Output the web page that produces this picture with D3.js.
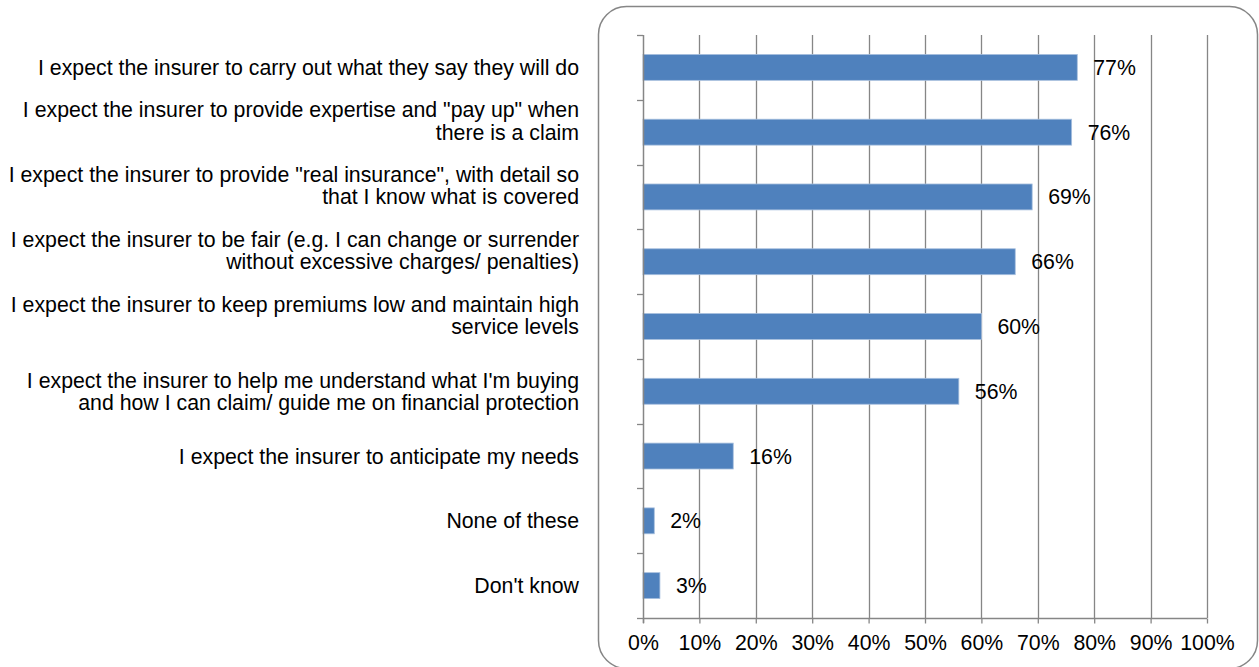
<!DOCTYPE html>
<html>
<head>
<meta charset="utf-8">
<script src="https://cdn.jsdelivr.net/npm/d3@7"></script>
<style>
  html, body { margin: 0; padding: 0; background: #fff; }
  svg { display: block; }
  text { font-family: "Liberation Sans", Arial, sans-serif; fill: #000; }
</style>
</head>
<body>
<svg id="chart" width="1259" height="667"></svg>
<script>
// Survey statements (wrapped into lines as shown on the axis)
const categories = [
  ["I expect the insurer to carry out what they say they will do"],
  ["I expect the insurer to provide expertise and \"pay up\" when", "there is a claim", ""],
  ["I expect the insurer to provide \"real insurance\", with detail so", "that I know what is covered", ""],
  ["I expect the insurer to be fair (e.g. I can change or surrender", "without excessive charges/ penalties)", ""],
  ["I expect the insurer to keep premiums low and maintain high", "service levels", ""],
  ["I expect the insurer to help me understand what I'm buying", "and how I can claim/ guide me on financial protection"],
  ["I expect the insurer to anticipate my needs"],
  ["None of these"],
  ["Don't know"]
];
// Share of respondents, percent
const values = [77, 76, 69, 66, 60, 56, 16, 2, 3];
const tickValues = [0, 10, 20, 30, 40, 50, 60, 70, 80, 90, 100];

const svg = d3.select("#chart");
const fontSize = 21.3;
const plot = { left: 643, right: 1207, top: 35, bottom: 618 };
const axisColor = "#868686";

// Rounded frame around the plot area
svg.append("rect")
  .attr("x", 598.5).attr("y", 6.5)
  .attr("width", 659).attr("height", 662)
  .attr("rx", 28).attr("ry", 28)
  .attr("fill", "none")
  .attr("stroke", axisColor)
  .attr("stroke-width", 1.5);

const x = d3.scaleLinear().domain([0, 100]).range([plot.left, plot.right]);
const y = d3.scaleBand()
  .domain(d3.range(categories.length))
  .range([plot.top, plot.bottom])
  .paddingInner(0.6)
  .paddingOuter(0.3);

// Vertical gridlines
svg.append("g")
  .selectAll("line")
  .data(tickValues.filter(d => d > 0))
  .join("line")
  .attr("x1", d => Math.round(x(d)) + 0.5)
  .attr("x2", d => Math.round(x(d)) + 0.5)
  .attr("y1", plot.top)
  .attr("y2", plot.bottom)
  .attr("stroke", axisColor)
  .attr("stroke-width", 1.3);

// Bars
svg.append("g")
  .selectAll("rect")
  .data(values)
  .join("rect")
  .attr("x", x(0))
  .attr("y", (d, i) => y(i))
  .attr("width", d => x(d) - x(0))
  .attr("height", y.bandwidth())
  .attr("fill", "#4F81BD")
  .attr("stroke", "#a7bfde")
  .attr("stroke-width", 0.8);

// Value labels
svg.append("g")
  .selectAll("text")
  .data(values)
  .join("text")
  .attr("x", d => x(d) + 16)
  .attr("y", (d, i) => y(i) + y.bandwidth() / 2)
  .attr("dy", "0.35em")
  .attr("font-size", fontSize)
  .text(d => d + "%");

// X axis
const xAxis = d3.axisBottom(x)
  .tickValues(tickValues)
  .tickFormat(d => d + "%")
  .tickSize(5)
  .tickPadding(11.5);
const gx = svg.append("g")
  .attr("transform", `translate(0,${plot.bottom + 0.5})`)
  .call(xAxis);
gx.select(".domain").attr("stroke", axisColor).attr("stroke-width", 1.5)
  .attr("d", `M${x(0)},0H${x(100)}`);
gx.selectAll(".tick line").attr("stroke", axisColor).attr("stroke-width", 1.3);
gx.selectAll(".tick text")
  .attr("font-size", fontSize)
  .attr("font-family", "'Liberation Sans', Arial, sans-serif")
  .attr("fill", "#000");

// Y axis line with ticks at category boundaries
const boundaries = d3.range(categories.length + 1).map(i => plot.top + i * y.step());
const gy = svg.append("g");
gy.append("line")
  .attr("x1", x(0) + 0.5).attr("x2", x(0) + 0.5)
  .attr("y1", plot.top).attr("y2", plot.bottom + 5)
  .attr("stroke", axisColor).attr("stroke-width", 1.5);
gy.selectAll("line.tick")
  .data(boundaries)
  .join("line")
  .attr("class", "tick")
  .attr("x1", x(0) - 6).attr("x2", x(0))
  .attr("y1", d => Math.round(d) + 0.5)
  .attr("y2", d => Math.round(d) + 0.5)
  .attr("stroke", axisColor).attr("stroke-width", 1.3);

// Category labels, right aligned and centred on each band
const lineHeight = 22.4;
const labels = svg.append("g")
  .selectAll("text")
  .data(categories)
  .join("text")
  .attr("text-anchor", "end")
  .attr("font-size", fontSize)
  .attr("y", (d, i) => y(i) + y.bandwidth() / 2);

labels.selectAll("tspan")
  .data(d => d.map((line, j) => ({ line, j, n: d.length })))
  .join("tspan")
  .attr("x", 579)
  .attr("dy", (d) => d.j === 0 ? (0.35 * fontSize - (d.n - 1) * lineHeight / 2) : lineHeight)
  .text(d => d.line);
</script>
</body>
</html>
